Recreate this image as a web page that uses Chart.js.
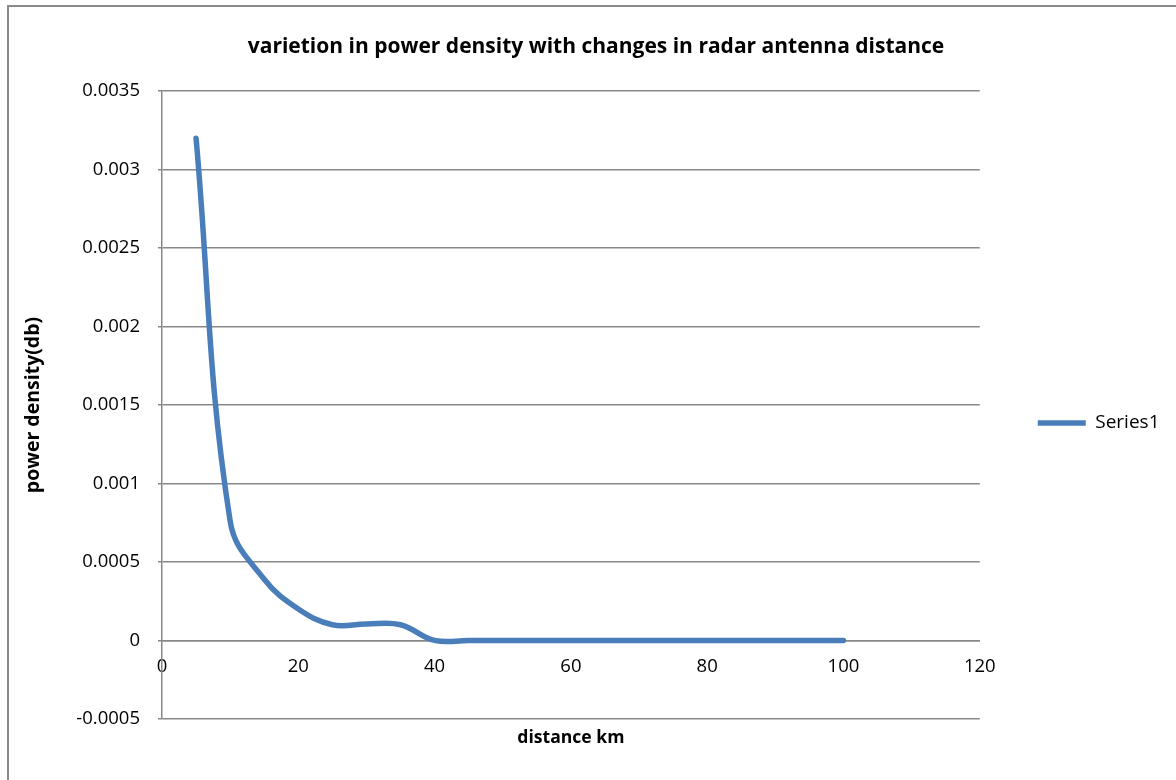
<!DOCTYPE html>
<html>
<head>
<meta charset="utf-8">
<script src="https://cdn.jsdelivr.net/npm/chart.js@4"></script>
<style>
  body { margin: 0; background: #fff; }
  canvas { display: block; }
</style>
</head>
<body>
<canvas id="myChart" width="1176" height="780"></canvas>
<script>
// distance (km) and power density values
const distance = [5, 10, 15, 20, 25, 30, 35, 40, 45, 50, 55, 60, 65, 70, 75, 80, 85, 90, 95, 100];
const power = [0.0032, 0.00076, 0.00039, 0.0002, 0.0001, 0.000105, 0.0001, 0, 0, 0, 0, 0, 0, 0, 0, 0, 0, 0, 0, 0];
const yTicks = [-0.0005, 0, 0.0005, 0.001, 0.0015, 0.002, 0.0025, 0.003, 0.0035];
const xTicks = [0, 20, 40, 60, 80, 100, 120];

const points = distance.map((d, i) => ({ x: d, y: power[i] }));

const FONT = "'Open Sans', sans-serif";
const GRID = '#888888';

// grey frame round the whole chart, like the spreadsheet chart border
const frame = {
    id: 'frame',
    beforeDraw(chart) {
        const ctx = chart.ctx;
        ctx.save();
        ctx.strokeStyle = '#8a8a8a';
        ctx.lineWidth = 2;
        ctx.strokeRect(8, 6, 1300, 900);
        ctx.restore();
    }
};

var ctx = document.getElementById('myChart').getContext('2d');

new Chart(ctx, {
    type: 'scatter',
    data: {
        datasets: [{
            label: 'Series1',
            data: points,
            showLine: true,
            borderColor: '#4a7ebb',
            backgroundColor: '#4a7ebb',
            borderWidth: 5.5,
            borderCapStyle: 'round',
            borderJoinStyle: 'round',
            pointRadius: 0,
            pointHoverRadius: 0,
            pointStyle: 'line',
            tension: 0.4,
            fill: false
        }]
    },
    options: {
        responsive: false,
        animation: false,
        layout: { padding: { left: 22.5, right: 6.5, top: 0, bottom: 31 } },
        plugins: {
            title: {
                display: true,
                text: 'varietion in power density with changes in radar antenna distance',
                color: '#000',
                font: { family: FONT, size: 21, weight: 'bold' },
                padding: { top: 34, bottom: 32 }
            },
            legend: {
                position: 'right',
                fullSize: false,
                title: { display: true, text: ' ', padding: 8.4, font: { family: FONT, size: 16 } },
                labels: {
                    usePointStyle: true,
                    pointStyleWidth: 48,
                    padding: 58,
                    color: '#000',
                    font: { family: FONT, size: 19 }
                }
            },
            tooltip: { enabled: false }
        },
        scales: {
            x: {
                type: 'linear',
                position: { y: 0 },
                min: 0,
                max: 120,
                afterBuildTicks(scale) { scale.ticks = xTicks.map(v => ({ value: v })); },
                grid: { display: false, drawTicks: false },
                border: { display: true, color: GRID, width: 1.5 },
                ticks: { padding: 15, color: '#000', font: { family: FONT, size: 18.5 } }
            },
            x2: {
                type: 'linear',
                axis: 'x',
                position: 'bottom',
                min: 0,
                max: 120,
                grid: { display: false, drawTicks: false },
                border: { display: false },
                ticks: { display: false },
                title: {
                    display: true,
                    text: 'distance km',
                    color: '#000',
                    font: { family: FONT, size: 17.6, weight: 'bold' },
                    padding: { top: 9, bottom: 0 }
                }
            },
            y: {
                type: 'linear',
                position: 'left',
                min: -0.0005,
                max: 0.0035,
                afterBuildTicks(scale) { scale.ticks = yTicks.map(v => ({ value: v })); },
                afterFit(scale) { scale.width = 139.5; },
                grid: { color: GRID, lineWidth: 1.5, tickLength: 4 },
                border: { display: true, color: GRID, width: 1.5 },
                ticks: {
                    padding: 18,
                    color: '#000',
                    font: { family: FONT, size: 18.5 },
                    callback: v => String(+v.toFixed(4))
                },
                title: {
                    display: true,
                    text: 'power density(db)',
                    color: '#000',
                    font: { family: FONT, size: 19.5, weight: 'bold' },
                    padding: { top: -1, bottom: 0 }
                }
            }
        }
    },
    plugins: [frame]
});
</script>
</body>
</html>
